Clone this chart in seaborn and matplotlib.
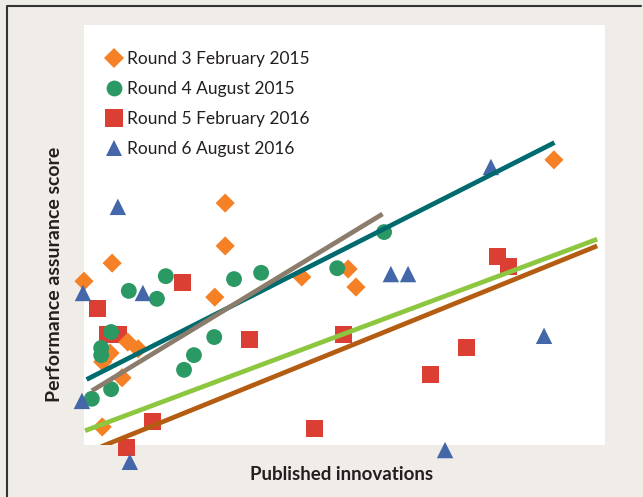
import numpy as np
import pandas as pd
import matplotlib
matplotlib.use("Agg")
import matplotlib.pyplot as plt
from matplotlib.lines import Line2D
import seaborn as sns

# data (arbitrary units, no tick labels on the original)
r3_x = [27.1, 27.1, 5.4, 0.0, 25.1, 8.4, 10.4, 5.0, 3.6, 7.3, 3.5, 41.8, 50.7, 52.2, 90.2]
r3_y = [57.6, 47.4, 43.3, 39.0, 35.2, 24.5, 22.9, 21.9, 19.8, 16.0, 4.3, 40.0, 41.9, 37.6, 67.9]

r4_x = [8.6, 14.0, 15.7, 28.8, 34.0, 5.2, 3.3, 3.3, 5.2, 1.5, 19.2, 21.1, 25.0, 48.6, 57.6]
r4_y = [36.7, 34.8, 40.2, 39.5, 41.0, 26.9, 23.1, 21.4, 13.3, 11.0, 17.9, 21.4, 25.7, 42.1, 50.7]

r5_x = [2.5, 19.0, 4.6, 6.7, 13.1, 8.1, 31.7, 49.9, 66.6, 44.3, 73.5, 79.3, 81.4]
r5_y = [32.6, 38.6, 26.2, 26.2, 5.5, -0.5, 25.2, 26.2, 16.9, 4.0, 23.1, 44.8, 42.6]

r6_x = [6.5, -0.2, 11.3, -0.4, 8.8, 58.9, 62.2, 69.3, 78.1, 88.3]
r6_y = [56.7, 36.2, 36.2, 10.5, -4.0, 40.7, 40.7, -1.2, 66.2, 26.0]

# trend lines (start, end)
teal_x, teal_y = [0.5, 90.3], [15.6, 72.0]
taupe_x, taupe_y = [1.5, 57.3], [12.9, 55.0]
lime_x, lime_y = [0.2, 98.5], [3.4, 49.0]
rust_x, rust_y = [3.3, 98.5], [-0.4, 47.4]

labels = ["Round 3 February 2015", "Round 4 August 2015",
          "Round 5 February 2016", "Round 6 August 2016"]

sns.set_theme(style="white")
plt.rcParams["font.family"] = ["Lato", "DejaVu Sans"]

W, H = 643, 497
fig = plt.figure(figsize=(W / 100, H / 100), dpi=100, facecolor="#f0ede8")
ax = fig.add_axes([84 / W, 1 - 445 / H, 521 / W, 420 / H])
ax.set_facecolor("white")

series = [
    (r3_x, r3_y, "D", "#f58025", 95, 3),
    (r4_x, r4_y, "o", "#2a9963", 130, 4),
    (r5_x, r5_y, "s", "#db3e32", 150, 2),
    (r6_x, r6_y, "^", "#4467a9", 140, 5),
]
for (xs, ys, m, c, s, z), lab in zip(series, labels):
    df = pd.DataFrame({"x": xs, "y": ys})
    sns.scatterplot(data=df, x="x", y="y", marker=m, color=c, s=s,
                    edgecolor="none", linewidth=0, ax=ax, zorder=z,
                    clip_on=False, legend=False)

for xs, ys, c in [(teal_x, teal_y, "#006b6f"), (taupe_x, taupe_y, "#8b7c6b"),
                  (lime_x, lime_y, "#8dc63f"), (rust_x, rust_y, "#b45d12")]:
    ax.plot(xs, ys, color=c, lw=3.4, solid_capstyle="butt", zorder=6)

ax.set_xlim(0, 100)
ax.set_ylim(0, 100)
ax.set_xticks([])
ax.set_yticks([])
for sp in ax.spines.values():
    sp.set_visible(False)

handles = [Line2D([], [], ls="none", marker=m, color=c, markeredgewidth=0,
                  markersize=np.sqrt(s)) for (_, _, m, c, s, _) in series]
ax.legend(handles, labels, loc="upper left", frameon=False,
          bbox_to_anchor=(105 / W, 1 - 51 / H), bbox_transform=fig.transFigure,
          borderaxespad=0, borderpad=0, handlelength=1.0, handletextpad=0.25,
          labelspacing=0.8, fontsize=12.5, labelcolor="#231f20")

ax.set_xlabel("Published innovations", fontsize=13.5, fontweight="bold",
              color="#231f20", va="center")
ax.xaxis.set_label_coords((342 - 84) / 521, (445 - 475) / 420)
ax.set_ylabel("Performance assurance score", fontsize=14, fontweight="bold",
              color="#231f20", va="center")
ax.yaxis.set_label_coords((55 - 84) / 521, (445 - 274) / 420)

# outer frame
fig.add_artist(Line2D([6.5 / W, 6.5 / W, 641 / W], [0, 1 - 5.5 / H, 1 - 5.5 / H],
                      transform=fig.transFigure, color="#333333", lw=1.5))

fig.savefig("out.png", dpi=100, facecolor=fig.get_facecolor())
